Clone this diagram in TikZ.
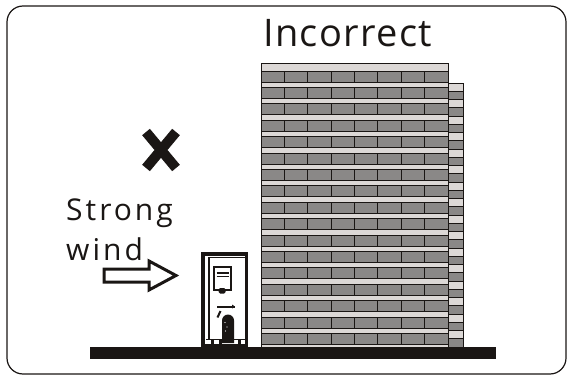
\documentclass[tikz,border=0pt]{standalone}
\usepackage{fontspec}
\setmainfont{Open Sans}
\newfontfamily\titlefont[LetterSpace=3.5]{Open Sans}
\newfontfamily\windfont[LetterSpace=10]{Open Sans}
\usetikzlibrary{calc}

\definecolor{ink}{RGB}{26,22,20}
\definecolor{wallgray}{RGB}{138,136,135}
\definecolor{slabgray}{RGB}{220,216,214}

\tikzset{
  wincell/.style={fill=wallgray, draw=ink, line width=0.8pt},
  slabcell/.style={fill=slabgray, draw=ink, line width=0.8pt},
  label/.style={inner sep=0pt, text=ink},
  kioskline/.style={draw=ink, line width=#1},
}

\begin{document}
\begin{tikzpicture}[x=1pt,y=-1pt]
\useasboundingbox (0,0) rectangle (570,377);

% outer frame
\draw[ink, line width=1.2pt, rounded corners=16pt] (7,6) rectangle (566,374);

% title
\node[label, anchor=base west, font=\titlefont\fontsize{38}{38}\selectfont] (title) at (263,47) {Incorrect};

% the building: slabs behind, eight windows per floor
\fill[slabgray] (261,63) rectangle (448,347);
\draw[ink, line width=0.8pt] (261,63) rectangle (448,347);
\foreach \k in {0,...,16} {
  \pgfmathsetmacro{\ytop}{71+16.4*\k}
  \foreach \c in {0,...,7} {
    \draw[wincell] ({261+23.375*\c},\ytop) rectangle ++(23.375,11);
  }
}

% narrow side tower
\foreach \k in {0,...,15} {
  \draw[slabcell] (448,{83+16.5*\k}) rectangle ++(15,8.25);
  \draw[wincell] (448,{91.25+16.5*\k}) rectangle ++(15,8.25);
}

% ground
\fill[ink] (90,347) rectangle (496,359);

% the cross
\draw[ink, line width=10pt] (146,132) -- (176,168) (176,132) -- (146,168);

% wind label and arrow
\node[label, anchor=base west, font=\windfont\fontsize{30}{30}\selectfont] (strong) at (66,220) {Strong};
\node[label, anchor=base west, font=\windfont\fontsize{30}{30}\selectfont] (wind) at (66,260) {wind};
\draw[ink, line width=3pt, fill=white, miter limit=4]
  (104,269) -- (149,269) -- (149,261) -- (176,275.5) -- (149,290) -- (149,282) -- (104,282) -- cycle;

% charging kiosk
\fill[white] (201,252) rectangle (249,347);
\draw[kioskline=3.5pt] (203,254) rectangle (246.5,346);
\draw[kioskline=2.5pt] (208.8,257) -- (208.8,340);
\draw[kioskline=1pt] (208,257.5) -- (245,257.5);
% screen
\draw[kioskline=2.5pt, fill=white] (214,267) rectangle (231,290);
\draw[kioskline=1.2pt] (216.5,273) -- (228.5,273) (216.5,276.5) -- (228.5,276.5);
\fill[ink, rounded corners=1.5pt] (218.5,288) rectangle (225.5,293.5);
% card slot and mark
\draw[kioskline=2pt] (217,306.5) -- (235,306.5);
\fill[ink] (235,306.5) -- (232,304.5) -- (232,308.5) -- cycle;
\draw[kioskline=2pt] (217.5,317.5) -- (220.5,311);
% socket door
\fill[ink] (222,343) -- (222,320.5) arc[start angle=180, end angle=0, radius=6pt] -- (234,343) -- cycle;
\fill[white] (225,322.5) circle (0.7pt) (227,327) circle (0.7pt) (225.5,331) circle (0.7pt);
% base
\draw[kioskline=1pt] (206,339.5) -- (245,339.5);
\foreach \fx in {211,219,238} {
  \fill[ink] (\fx,340) rectangle ++(2.5,4);
}
\end{tikzpicture}
\end{document}
